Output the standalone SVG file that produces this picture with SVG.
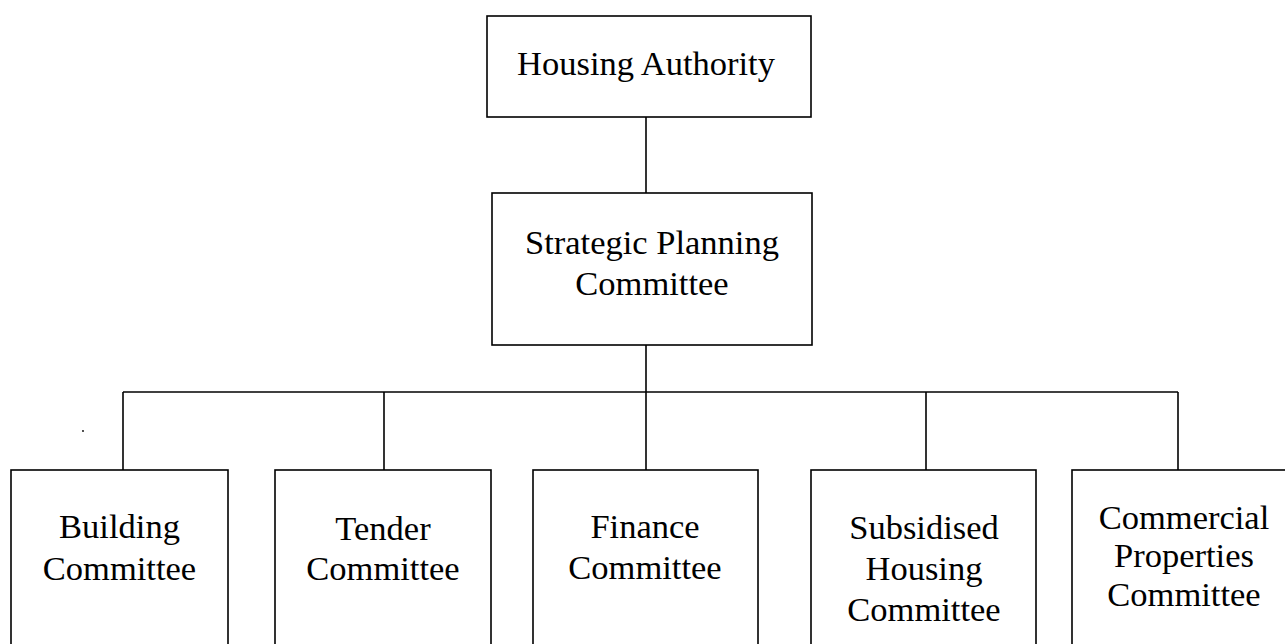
<svg xmlns="http://www.w3.org/2000/svg" width="1285" height="644" viewBox="0 0 1285 644">
<style>
.box{fill:#fff;stroke:#000;stroke-width:1.6}
.lbl{font-family:"Liberation Serif","Times New Roman",serif;font-size:34.5px;fill:#000;text-anchor:middle}
.conn{stroke:#000;stroke-width:1.6;fill:none}
</style>
<rect width="1285" height="644" fill="#fff"/>
<g id="connectors">
<line class="conn" x1="646" y1="117" x2="646" y2="193"/>
<line class="conn" x1="646" y1="345" x2="646" y2="392"/>
<line class="conn" x1="123" y1="392" x2="1178" y2="392"/>
<line class="conn" x1="123" y1="392" x2="123" y2="470"/>
<line class="conn" x1="384" y1="392" x2="384" y2="470"/>
<line class="conn" x1="646" y1="392" x2="646" y2="470"/>
<line class="conn" x1="926" y1="392" x2="926" y2="470"/>
<line class="conn" x1="1178" y1="392" x2="1178" y2="470"/>
</g>
<circle cx="83" cy="431" r="0.9" fill="#000"/>
<g id="housing-authority">
<rect class="box" x="487" y="16" width="324" height="101"/>
<text class="lbl" x="646" y="75">Housing Authority</text>
</g>
<g id="strategic-planning">
<rect class="box" x="492" y="193" width="320" height="152"/>
<text class="lbl" x="652" y="254">Strategic Planning</text>
<text class="lbl" x="652" y="295">Committee</text>
</g>
<g id="building">
<rect class="box" x="11" y="470" width="217" height="200"/>
<text class="lbl" x="119.5" y="538">Building</text>
<text class="lbl" x="119.5" y="580">Committee</text>
</g>
<g id="tender">
<rect class="box" x="275" y="470" width="216" height="200"/>
<text class="lbl" x="383" y="540">Tender</text>
<text class="lbl" x="383" y="580">Committee</text>
</g>
<g id="finance">
<rect class="box" x="533" y="470" width="225" height="200"/>
<text class="lbl" x="645" y="538">Finance</text>
<text class="lbl" x="645" y="579">Committee</text>
</g>
<g id="subsidised">
<rect class="box" x="811" y="470" width="225" height="200"/>
<text class="lbl" x="924" y="539">Subsidised</text>
<text class="lbl" x="924" y="580">Housing</text>
<text class="lbl" x="924" y="621">Committee</text>
</g>
<g id="commercial">
<rect class="box" x="1072" y="470" width="224" height="200"/>
<text class="lbl" x="1184" y="529">Commercial</text>
<text class="lbl" x="1184" y="567">Properties</text>
<text class="lbl" x="1184" y="606">Committee</text>
</g>
</svg>
